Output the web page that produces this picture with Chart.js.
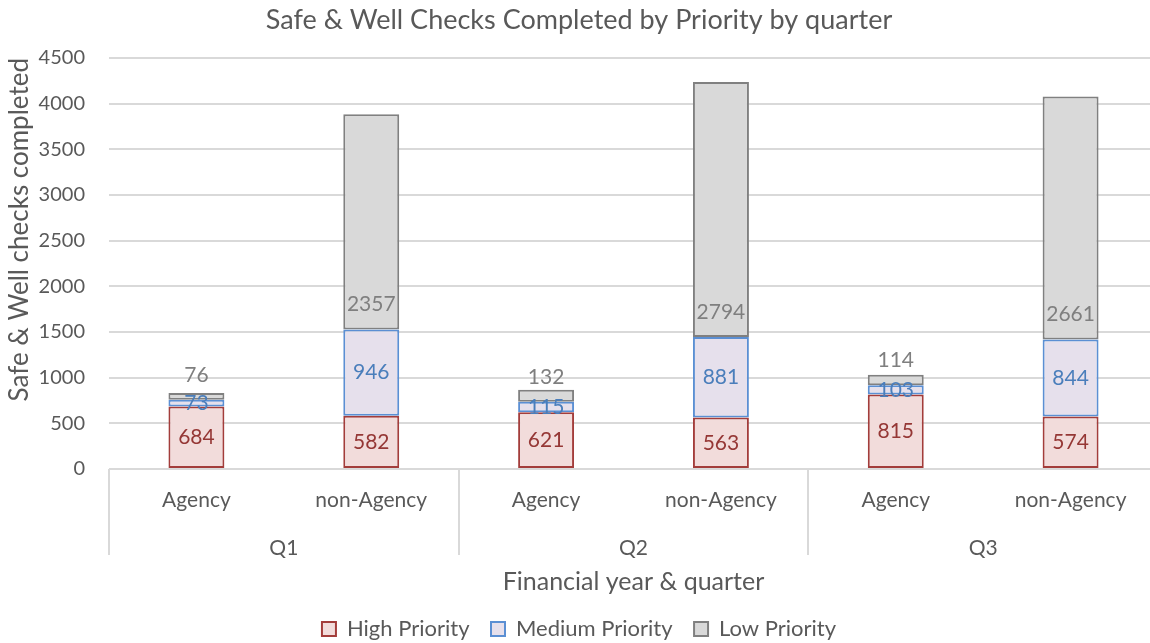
<!DOCTYPE html>
<html>
<head>
<meta charset="utf-8">
<script src="https://cdn.jsdelivr.net/npm/chart.js@4"></script>
<style>
  body { margin: 0; overflow: hidden; background: #fff; }
  #wrap { width: 1158px; height: 650px; }
</style>
</head>
<body>
<div id="wrap"><canvas id="chart"></canvas></div>
<script>
const categories = ['Agency', 'non-Agency', 'Agency', 'non-Agency', 'Agency', 'non-Agency'];
const quarters = ['Q1', 'Q2', 'Q3'];
const highPriority = [684, 582, 621, 563, 815, 574];
const mediumPriority = [73, 946, 115, 881, 103, 844];
const lowPriority = [76, 2357, 132, 2794, 114, 2661];
const labelColors = ['#953735', '#4a7ebb', '#7f7f7f'];

Chart.defaults.font.family = 'Lato';
Chart.defaults.color = '#595959';

// separators between quarters under the axis
const groupLines = {
  id: 'groupLines',
  afterDraw(chart) {
    const ctx = chart.ctx;
    const area = chart.chartArea;
    const step = (area.right - area.left) / quarters.length;
    ctx.save();
    ctx.strokeStyle = '#d9d9d9';
    ctx.lineWidth = 2;
    for (let i = 0; i <= quarters.length; i++) {
      const x = Math.round(area.left + i * step);
      ctx.beginPath();
      ctx.moveTo(x, area.bottom);
      ctx.lineTo(x, 555);
      ctx.stroke();
    }
    ctx.restore();
  }
};

// value labels: high & medium centred, low sitting above its base
const valueLabels = {
  id: 'valueLabels',
  afterDatasetsDraw(chart) {
    const ctx = chart.ctx;
    ctx.save();
    ctx.font = '21px Lato';
    ctx.textAlign = 'center';
    ctx.textBaseline = 'middle';
    chart.data.datasets.forEach((ds, d) => {
      const meta = chart.getDatasetMeta(d);
      ctx.fillStyle = labelColors[d];
      meta.data.forEach((bar, i) => {
        const y = d < 2 ? (bar.y + bar.base) / 2 : bar.base - 25;
        ctx.fillText(ds.data[i], bar.x, y);
      });
    });
    ctx.restore();
  }
};

new Chart(document.getElementById('chart'), {
  type: 'bar',
  data: {
    labels: categories,
    datasets: [
      { label: 'High Priority', data: highPriority, backgroundColor: '#f2dcdb', borderColor: '#a33d3b' },
      { label: 'Medium Priority', data: mediumPriority, backgroundColor: '#e6e0ec', borderColor: '#5b8fd3' },
      { label: 'Low Priority', data: lowPriority, backgroundColor: '#d9d9d9', borderColor: '#808080' }
    ].map(ds => Object.assign(ds, {
      borderWidth: 2, borderSkipped: false,
      barPercentage: 0.32, categoryPercentage: 1
    }))
  },
  options: {
    responsive: true,
    maintainAspectRatio: false,
    animation: false,
    layout: { padding: 0 },
    plugins: {
      title: {
        display: true,
        text: 'Safe & Well Checks Completed by Priority by quarter',
        font: { size: 27, weight: 'normal' },
        color: '#595959',
        padding: { top: 4, bottom: 21.6 }
      },
      legend: {
        position: 'bottom',
        labels: { font: { size: 22 }, boxWidth: 14, boxHeight: 14, padding: 21.5, color: '#595959' }
      },
      tooltip: { enabled: false }
    },
    scales: {
      x: {
        stacked: true,
        weight: 0,
        grid: { display: false, drawTicks: false },
        border: { display: false },
        ticks: { font: { size: 21 }, padding: 18.5, maxRotation: 0, autoSkip: false },
        afterFit: s => { s.height = 60; }
      },
      x2: {
        type: 'category',
        labels: quarters,
        position: 'bottom',
        offset: true,
        weight: 1,
        grid: { display: false, drawTicks: false },
        border: { display: false },
        ticks: { font: { size: 21 }, padding: 6.5, maxRotation: 0 },
        title: { display: true, text: 'Financial year & quarter', font: { size: 25 }, padding: { top: 0, bottom: 0 } },
        afterFit: s => { s.height = 67.5; }
      },
      y: {
        stacked: true,
        min: 0,
        max: 4500,
        ticks: { stepSize: 500, font: { size: 20 }, padding: 24, format: { useGrouping: false } },
        grid: { color: '#d9d9d9', lineWidth: 2, drawTicks: false },
        border: { display: false },
        title: { display: true, text: 'Safe & Well checks completed', font: { size: 26 }, align: 'end', padding: { top: 4 } },
        afterFit: s => { s.width = 109; }
      }
    }
  },
  plugins: [groupLines, valueLabels]
});
</script>
</body>
</html>
